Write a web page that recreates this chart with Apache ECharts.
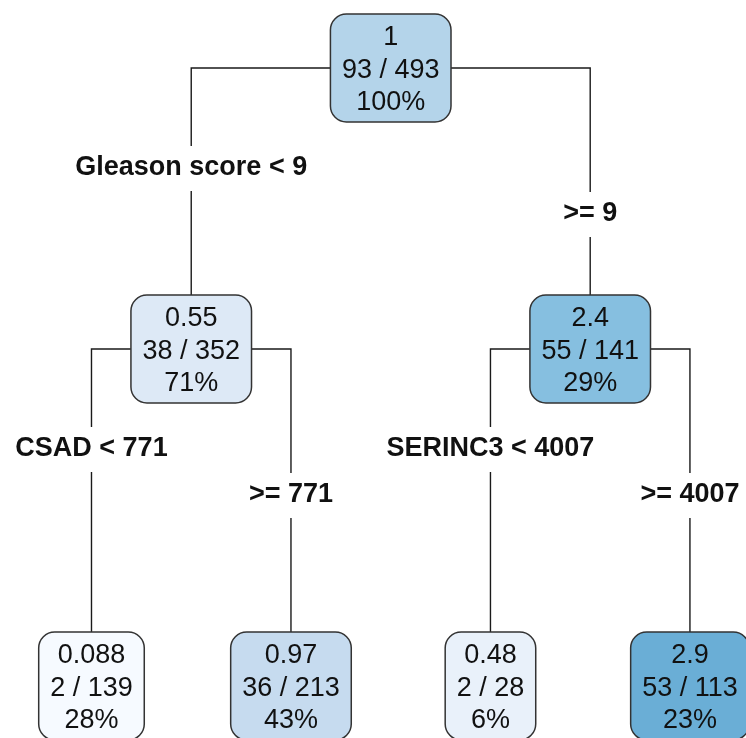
<!DOCTYPE html>
<html><head><meta charset="utf-8">
<script src="https://cdn.jsdelivr.net/npm/echarts@6/dist/echarts.min.js"></script>
<style>html,body{margin:0;padding:0;background:#fff}#c{width:746px;height:738px}</style>
</head><body><div id="c"></div>
<script>
// ---- data (rpart decision tree) ----
const nodeParent  = [-1, 0, 0, 1, 1, 2, 2];
const nodeValue   = ['1', '0.55', '2.4', '0.088', '0.97', '0.48', '2.9'];
const nodeEvents  = [93, 38, 55, 2, 36, 2, 53];
const nodeTotal   = [493, 352, 141, 139, 213, 28, 113];
const nodePercent = [100, 71, 29, 28, 43, 6, 23];
const splitNode   = [0, 1, 2];
const splitLeft   = ['Gleason score < 9', 'CSAD < 771', 'SERINC3 < 4007'];
const splitRight  = ['>= 9', '>= 771', '>= 4007'];

// ---- styles / layout ----
const nodeFill = ['#b4d4ea', '#dde9f6', '#86bfe0', '#f6faff', '#c6dbef', '#e9f1fa', '#6aaed6'];
const levelY = [68, 349, 686];
const BOX_H = 108, PAD_X = 11.5, RADIUS = 16;
const NODE_FONT = '27px "Liberation Sans", Arial, sans-serif';
const LABEL_FONT = 'bold 27px "Liberation Sans", Arial, sans-serif';
const LINE_H = 32.5, TEXT_DY = 2.5;
const LEFT_LABEL_DY = 100, RIGHT_LABEL_DY = 146, GAP_UP = 22, GAP_DN = 23;

const ctx = document.createElement('canvas').getContext('2d');
function measure(t, font) { ctx.font = font; return ctx.measureText(t).width; }

// derive tree structure
const n = nodeParent.length;
const children = Array.from({length: n}, () => []);
nodeParent.forEach((p, i) => { if (p >= 0) children[p].push(i); });
const depth = nodeParent.map((p, i) => { let d = 0, q = i; while (nodeParent[q] >= 0) { q = nodeParent[q]; d++; } return d; });
const xPos = new Array(n);
let leafCount = 0;
(function place(i) {
  if (!children[i].length) { xPos[i] = leafCount++; return; }
  children[i].forEach(place);
  xPos[i] = children[i].reduce((s, c) => s + xPos[c], 0) / children[i].length;
})(0);

function nodeLines(i) { return [nodeValue[i], nodeEvents[i] + ' / ' + nodeTotal[i], nodePercent[i] + '%']; }
function boxW(i) { return Math.max(...nodeLines(i).map(t => measure(t, NODE_FONT))) + PAD_X * 2; }

const nodeData = nodeParent.map((p, i) => [xPos[i], levelY[depth[i]], i]);
const edgeData = [];
splitNode.forEach((s, k) => {
  children[s].forEach((c, j) => edgeData.push([xPos[s], levelY[depth[s]], xPos[c], levelY[depth[c]], s, c, j, k]));
});

const chart = echarts.init(document.getElementById('c'), null, {renderer: 'canvas'});
chart.setOption({
  animation: false,
  backgroundColor: '#ffffff',
  grid: {left: 0, right: 0, top: 0, bottom: 0},
  xAxis: {type: 'value', min: -0.4586, max: 3.281, show: false},
  yAxis: {type: 'value', min: 0, max: 738, inverse: true, show: false},
  series: [
    {
      type: 'custom', name: 'edges', data: edgeData, z: 1,
      renderItem(params, api) {
        const p = api.coord([api.value(0), api.value(1)]);
        const c = api.coord([api.value(2), api.value(3)]);
        const s = api.value(4), side = api.value(6), k = api.value(7);
        const half = boxW(s) / 2;
        const sx = side === 0 ? p[0] - half : p[0] + half;
        const childTop = c[1] - BOX_H / 2;
        const ly = p[1] + (side === 0 ? LEFT_LABEL_DY : RIGHT_LABEL_DY);
        const lineStyle = {stroke: '#1a1a1a', lineWidth: 1.4, fill: null};
        return {type: 'group', children: [
          {type: 'polyline', shape: {points: [[sx, p[1]], [c[0], p[1]], [c[0], ly - GAP_UP]]}, style: lineStyle},
          {type: 'line', shape: {x1: c[0], y1: ly + GAP_DN, x2: c[0], y2: childTop}, style: lineStyle},
          {type: 'text', x: c[0], y: ly, style: {text: side === 0 ? splitLeft[k] : splitRight[k], font: LABEL_FONT, fill: '#111', align: 'center', verticalAlign: 'middle'}}
        ]};
      }
    },
    {
      type: 'custom', name: 'nodes', data: nodeData, z: 2,
      renderItem(params, api) {
        const i = api.value(2);
        const c = api.coord([api.value(0), api.value(1)]);
        const w = boxW(i);
        return {type: 'group', children: [
          {type: 'rect', shape: {x: c[0] - w / 2, y: c[1] - BOX_H / 2, width: w, height: BOX_H, r: RADIUS},
           style: {fill: nodeFill[i], stroke: '#333', lineWidth: 1.5}},
          {type: 'text', x: c[0], y: c[1] + TEXT_DY, style: {text: nodeLines(i).join('\n'), font: NODE_FONT, lineHeight: LINE_H, fill: '#111', align: 'center', verticalAlign: 'middle'}}
        ]};
      }
    }
  ]
});
</script>
</body></html>
